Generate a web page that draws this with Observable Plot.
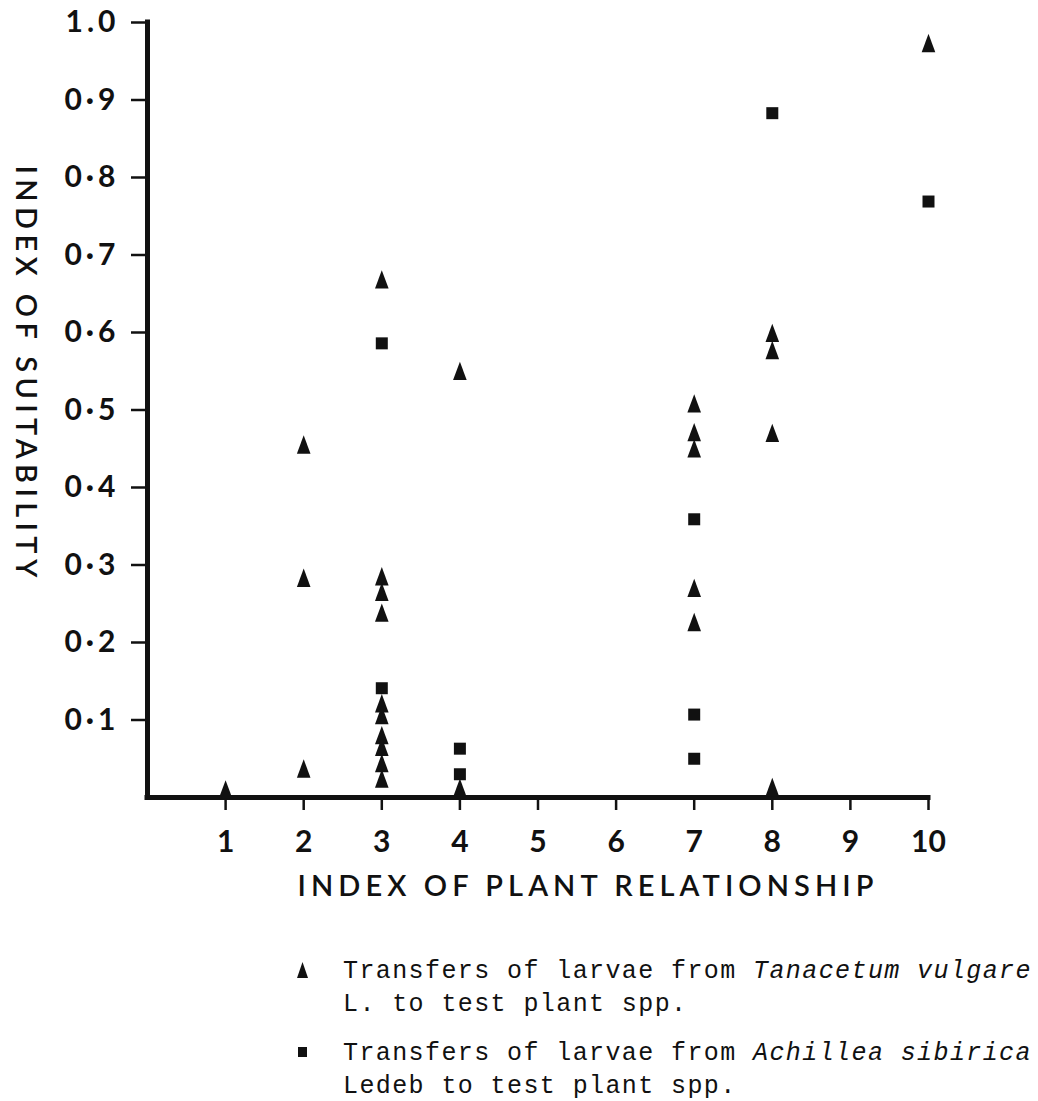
<!DOCTYPE html>
<html>
<head>
<meta charset="utf-8">
<script src="https://cdn.jsdelivr.net/npm/d3@7"></script>
<script src="https://cdn.jsdelivr.net/npm/@observablehq/plot@0.6"></script>
<style>
  body { margin: 0; background: #fff; }
  #wrap { position: relative; width: 1038px; height: 1101px; overflow: hidden; background: #fff; }
  #wrap svg.plot { position: absolute; left: 0; top: 0; }
  .leg { position: absolute; font-family: "Liberation Mono", "DejaVu Sans Mono", monospace; font-size: 25px;
         letter-spacing: 1.4px; line-height: 33px; color: #111; white-space: nowrap; }
  .leg i { font-style: italic; }
  .sym { position: absolute; }
  .ytk text { letter-spacing: 4px; }
</style>
</head>
<body>
<div id="wrap"></div>
<script>
// ---- data ----
const xTicks = [1, 2, 3, 4, 5, 6, 7, 8, 9, 10];
const xTickLabels = ["1", "2", "3", "4", "5", "6", "7", "8", "9", "10"];
const yTicks = [0.1, 0.2, 0.3, 0.4, 0.5, 0.6, 0.7, 0.8, 0.9, 1.0];
const yTickLabels = ["0·1", "0·2", "0·3", "0·4", "0·5", "0·6", "0·7", "0·8", "0·9", "1.0"];
const xTitle = "INDEX OF PLANT RELATIONSHIP";
const yTitle = "INDEX OF SUITABILITY";

// Transfers of larvae from Tanacetum vulgare (triangles)
const tanacetumX = [1, 2, 2, 2, 3, 3, 3, 3, 3, 3, 3, 3, 3, 3, 4, 4, 7, 7, 7, 7, 7, 8, 8, 8, 8, 10];
const tanacetumY = [0.01, 0.455, 0.283, 0.037, 0.668, 0.285, 0.265, 0.238, 0.121, 0.106, 0.080, 0.065, 0.044, 0.024,
                    0.550, 0.012, 0.508, 0.471, 0.450, 0.270, 0.226, 0.599, 0.577, 0.470, 0.013, 0.973];

// Transfers of larvae from Achillea sibirica (squares)
const achilleaX = [3, 3, 4, 4, 7, 7, 7, 8, 10];
const achilleaY = [0.586, 0.141, 0.063, 0.030, 0.359, 0.107, 0.050, 0.883, 0.769];

const tri = tanacetumX.map((x, i) => ({x, y: tanacetumY[i]}));
const sq = achilleaX.map((x, i) => ({x, y: achilleaY[i]}));

// custom symbols
const triSym = {draw(ctx, size) {
  const r = Math.sqrt(size / Math.PI);
  ctx.moveTo(0, -1.2 * r); ctx.lineTo(0.85 * r, 1.1 * r); ctx.lineTo(-0.85 * r, 1.1 * r); ctx.closePath();
}};
const sqSym = {draw(ctx, size) {
  const r = Math.sqrt(size / Math.PI); const h = 0.75 * r;
  ctx.moveTo(-h, -h); ctx.lineTo(h, -h); ctx.lineTo(h, h); ctx.lineTo(-h, h); ctx.closePath();
}};

const ink = "#111";
const chart = Plot.plot({
  width: 1038, height: 910,
  marginLeft: 147, marginRight: 110, marginTop: 22, marginBottom: 113,
  style: {fontFamily: "Lato, 'DejaVu Sans', sans-serif", fontSize: "28px", color: ink, background: "white", overflow: "visible"},
  x: {domain: [0, 10]},
  y: {domain: [0, 1]},
  marks: [
    Plot.axisX({ticks: xTicks, tickFormat: d => xTickLabels[xTicks.indexOf(d)], tickSize: 13, tickPadding: 20,
                label: null, strokeWidth: 2.5, fontSize: 30, fontWeight: "bold"}),
    Plot.axisY({ticks: yTicks, tickFormat: d => yTickLabels[yTicks.indexOf(d)], tickSize: 16, tickPadding: 12,
                label: null, strokeWidth: 2.5, fontSize: 30, fontWeight: "bold", className: "ytk"}),
    Plot.ruleY([0], {strokeWidth: 5, stroke: ink, strokeLinecap: "square"}),
    Plot.ruleX([0], {strokeWidth: 5, stroke: ink, strokeLinecap: "square"}),
    Plot.dot(tri, {x: "x", y: "y", symbol: triSym, r: 8, fill: ink, stroke: "none"}),
    Plot.dot(sq, {x: "x", y: "y", symbol: sqSym, r: 8, fill: ink, stroke: "none"}),
    Plot.text([xTitle], {text: d => d, frameAnchor: "bottom", dx: 47.5, dy: 98, fontSize: 29, fontWeight: 600, className: "xtitle"}),
    Plot.text([yTitle], {text: d => d, frameAnchor: "left", textAnchor: "start", rotate: 90, dx: -122, dy: -244.5,
                         fontSize: 29, fontWeight: 600, className: "ytitle"})
  ]
});
chart.classList.add("plot");
document.getElementById("wrap").appendChild(chart);

// stretch the titles to the reference letter-spacing
const xt = chart.querySelector(".xtitle text");
if (xt) { xt.setAttribute("textLength", 576); xt.setAttribute("lengthAdjust", "spacing"); }
const yt = chart.querySelector(".ytitle text");
if (yt) { yt.setAttribute("textLength", 412); yt.setAttribute("lengthAdjust", "spacing"); }

// legend
const wrap = document.getElementById("wrap");
function addSym(kind, left, top) {
  const s = document.createElementNS("http://www.w3.org/2000/svg", "svg");
  s.setAttribute("class", "sym");
  s.style.left = left + "px"; s.style.top = top + "px";
  if (kind === "tri") {
    s.setAttribute("width", 13); s.setAttribute("height", 18);
    s.innerHTML = `<polygon points="6.5,1 12,17 1,17" fill="${ink}"/>`;
  } else {
    s.setAttribute("width", 11); s.setAttribute("height", 12);
    s.innerHTML = `<rect x="1" y="1" width="9" height="10" fill="${ink}"/>`;
  }
  wrap.appendChild(s);
}
function addLeg(html, top) {
  const d = document.createElement("div");
  d.className = "leg"; d.style.left = "343px"; d.style.top = top + "px";
  d.innerHTML = html; wrap.appendChild(d);
}
addSym("tri", 296, 961);
addLeg("Transfers of larvae from <i>Tanacetum vulgare</i><br>L. to test plant spp.", 955);
addSym("sq", 297, 1046);
addLeg("Transfers of larvae from <i>Achillea sibirica</i><br>Ledeb to test plant spp.", 1037);
</script>
</body>
</html>
